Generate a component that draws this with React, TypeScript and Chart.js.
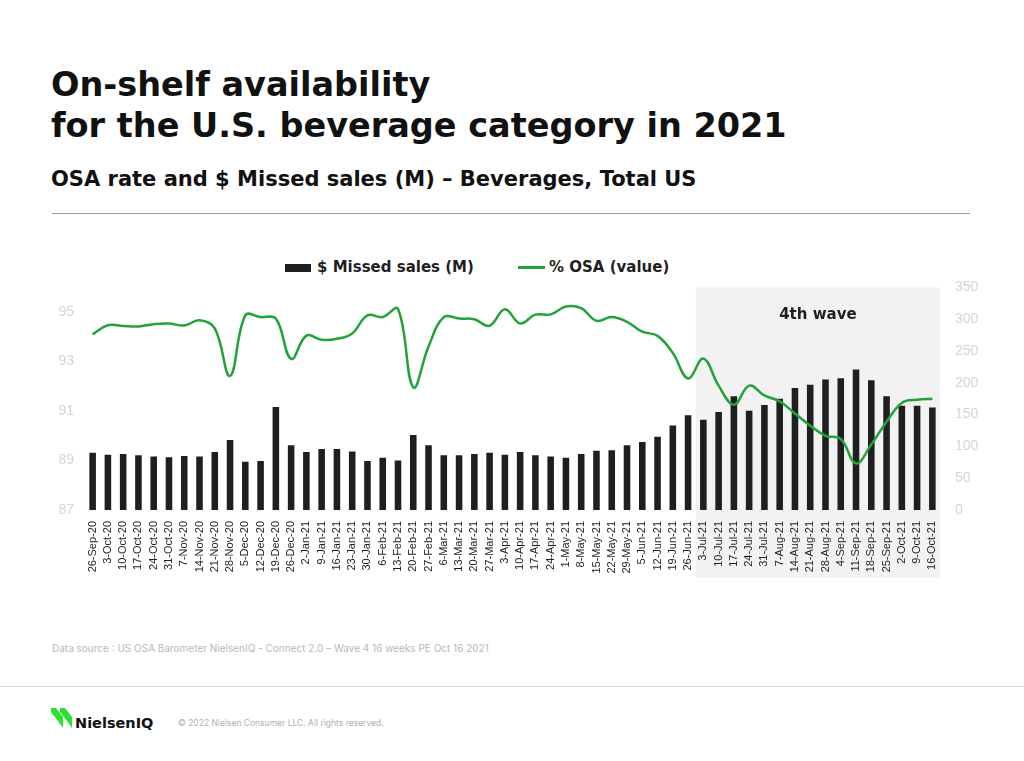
import React, { useEffect, useRef } from 'react';
import { Chart, registerables } from 'chart.js';

Chart.register(...registerables);

const weeks = [
  '26-Sep-20', '3-Oct-20', '10-Oct-20', '17-Oct-20', '24-Oct-20', '31-Oct-20', '7-Nov-20', '14-Nov-20',
  '21-Nov-20', '28-Nov-20', '5-Dec-20', '12-Dec-20', '19-Dec-20', '26-Dec-20', '2-Jan-21', '9-Jan-21',
  '16-Jan-21', '23-Jan-21', '30-Jan-21', '6-Feb-21', '13-Feb-21', '20-Feb-21', '27-Feb-21', '6-Mar-21',
  '13-Mar-21', '20-Mar-21', '27-Mar-21', '3-Apr-21', '10-Apr-21', '17-Apr-21', '24-Apr-21', '1-May-21',
  '8-May-21', '15-May-21', '22-May-21', '29-May-21', '5-Jun-21', '12-Jun-21', '19-Jun-21', '26-Jun-21',
  '3-Jul-21', '10-Jul-21', '17-Jul-21', '24-Jul-21', '31-Jul-21', '7-Aug-21', '14-Aug-21', '21-Aug-21',
  '28-Aug-21', '4-Sep-21', '11-Sep-21', '18-Sep-21', '25-Sep-21', '2-Oct-21', '9-Oct-21', '16-Oct-21',
];

const missedSales = [
  90, 87, 88, 86, 84, 83, 85, 84,
  91, 110, 76, 77, 162, 102, 91, 96,
  96, 92, 77, 82, 78, 118, 102, 86,
  86, 88, 90, 87, 91, 86, 84, 82,
  88, 93, 94, 102, 107, 115, 133, 149,
  142, 154, 179, 156, 165, 175, 192, 197,
  205, 207, 221, 204, 179, 164, 164, 161,
];

const osaValue = [
  94.1, 94.47, 94.44, 94.42, 94.51, 94.54, 94.46, 94.67,
  94.34, 92.42, 94.87, 94.8, 94.74, 93.11, 94.05, 93.88,
  93.92, 94.14, 94.87, 94.8, 95.13, 91.96, 93.61, 94.8,
  94.74, 94.71, 94.45, 95.12, 94.54, 94.9, 94.91, 95.23,
  95.16, 94.65, 94.8, 94.61, 94.21, 94.04, 93.35, 92.32,
  93.12, 92.03, 91.26, 92.03, 91.63, 91.39, 90.9, 90.41,
  90.0, 89.87, 88.88, 89.65, 90.57, 91.33, 91.46, 91.5,
];

const osaTicks = [87, 89, 91, 93, 95];
const salesTicks = [0, 50, 100, 150, 200, 250, 300, 350];
const waveStartIndex = 40;
const waveLabel = '4th wave';

const GREEN = '#22a33a';
const DARK = '#1f1f1f';
const HEAD = '"DejaVu Sans", sans-serif';

const wavePlugin = {
  id: 'waveShade',
  beforeDraw(chart: any) {
    const { ctx, chartArea, scales } = chart;
    const x = scales.x;
    const x0 = (x.getPixelForValue(waveStartIndex - 1) + x.getPixelForValue(waveStartIndex)) / 2;
    const x1 = chartArea.right;
    ctx.save();
    ctx.fillStyle = '#f2f2f2';
    ctx.fillRect(x0, chartArea.top, x1 - x0, chart.height - 12 - chartArea.top);
    ctx.fillStyle = DARK;
    ctx.font = 'bold 15px "DejaVu Sans"';
    ctx.textAlign = 'center';
    ctx.textBaseline = 'middle';
    ctx.fillText(waveLabel, (x0 + x1) / 2, chartArea.top + 28);
    ctx.restore();
  },
};

function ChartBox() {
  const ref = useRef<HTMLCanvasElement>(null);
  useEffect(() => {
    if (!ref.current) return;
    const chart = new Chart(ref.current, {
      type: 'bar',
      data: {
        labels: weeks,
        datasets: [
          {
            type: 'line',
            label: '% OSA (value)',
            data: osaValue,
            yAxisID: 'y',
            borderColor: GREEN,
            backgroundColor: GREEN,
            borderWidth: 2.5,
            pointRadius: 0,
            tension: 0.4,
            order: 0,
          } as any,
          {
            type: 'bar',
            label: '$ Missed sales (M)',
            data: missedSales,
            yAxisID: 'y1',
            backgroundColor: DARK,
            barPercentage: 0.43,
            categoryPercentage: 1,
            order: 1,
          },
        ],
      },
      options: {
        responsive: false,
        animation: false,
        layout: { padding: { top: 10.75, bottom: 0, left: 0, right: 0 } },
        plugins: { legend: { display: false }, tooltip: { enabled: false } },
        scales: {
          x: {
            grid: { display: false },
            border: { display: false },
            ticks: {
              autoSkip: false,
              maxRotation: 90,
              minRotation: 90,
              color: DARK,
              font: { family: 'Liberation Sans', size: 11 },
              padding: 3,
            },
            afterFit: (s: any) => { s.height = 80; },
          },
          y: {
            position: 'left',
            min: 87,
            max: 96,
            grid: { display: false },
            border: { display: false },
            afterBuildTicks: (s: any) => { s.ticks = osaTicks.map((v) => ({ value: v })); },
            ticks: {
              color: '#d4d4d4',
              font: { family: 'Liberation Sans', size: 14 },
              padding: 3,
            },
            afterFit: (s: any) => { s.width = 45; },
          },
          y1: {
            position: 'right',
            min: 0,
            max: 350,
            grid: { display: false },
            border: { display: false },
            afterBuildTicks: (s: any) => { s.ticks = salesTicks.map((v) => ({ value: v })); },
            ticks: {
              color: '#d4d4d4',
              font: { family: 'Liberation Sans', size: 14 },
              padding: 7,
            },
            afterFit: (s: any) => { s.width = 50; },
          },
        },
      },
      plugins: [wavePlugin],
    });
    return () => chart.destroy();
  }, []);
  return <canvas ref={ref} width={950} height={318} style={{ position: 'absolute', left: 40, top: 272, width: 950, height: 318 }} />;
}

export default function App() {
  const font = 'Inter, "Noto Sans", sans-serif';
  return (
    <div style={{ position: 'fixed', left: 0, top: 0, width: 1024, height: 761, background: '#fff', fontFamily: font, overflow: 'hidden' }}>
      <div style={{ position: 'absolute', left: 51, top: 67.5, fontFamily: HEAD, fontSize: 33.5, lineHeight: '33.5px', fontWeight: 700, color: '#111', whiteSpace: 'nowrap' }}>On-shelf availability</div>
      <div style={{ position: 'absolute', left: 51, top: 108.5, fontFamily: HEAD, fontSize: 33.5, lineHeight: '33.5px', fontWeight: 700, color: '#111', whiteSpace: 'nowrap' }}>for the U.S. beverage category in 2021</div>
      <div style={{ position: 'absolute', left: 51, top: 169, fontFamily: HEAD, fontSize: 21, lineHeight: '21px', fontWeight: 700, color: '#111', whiteSpace: 'nowrap' }}>OSA rate and $ Missed sales (M) – Beverages, Total US</div>
      <div style={{ position: 'absolute', left: 52, top: 213, width: 918, height: 1, background: '#9a9a9a' }} />

      <div style={{ position: 'absolute', left: 285, top: 264, width: 26, height: 8, background: DARK }} />
      <div style={{ position: 'absolute', left: 317, top: 259.5, fontFamily: HEAD, fontSize: 15, lineHeight: '15px', fontWeight: 700, color: DARK, whiteSpace: 'nowrap' }}>$ Missed sales (M)</div>
      <div style={{ position: 'absolute', left: 518, top: 266, width: 27, height: 2.5, background: GREEN }} />
      <div style={{ position: 'absolute', left: 549, top: 259.5, fontFamily: HEAD, fontSize: 15, lineHeight: '15px', fontWeight: 700, color: DARK, whiteSpace: 'nowrap' }}>% OSA (value)</div>

      <ChartBox />

      <div style={{ position: 'absolute', left: 52, top: 643, fontSize: 10, lineHeight: '10px', color: '#b8b8b8', whiteSpace: 'nowrap' }}>Data source : US OSA Barometer NielsenIQ - Connect 2.0 – Wave 4 16 weeks PE Oct 16 2021</div>
      <div style={{ position: 'absolute', left: 0, top: 686, width: 1024, height: 1, background: '#dcdcdc' }} />

      <svg style={{ position: 'absolute', left: 51, top: 708 }} width={22} height={20} viewBox="0 0 22 20">
        <polygon points="0,0 5,0 12,9 12,20 7,13 0,4" fill="#2de02d" />
        <polygon points="9,0 14,0 21,9 21,20 16,13 9,4" fill="#2de02d" />
      </svg>
      <div style={{ position: 'absolute', left: 75, top: 716, fontFamily: HEAD, fontSize: 14.5, lineHeight: '14.5px', fontWeight: 700, color: '#111', whiteSpace: 'nowrap' }}>NielsenIQ</div>
      <div style={{ position: 'absolute', left: 178, top: 718, fontSize: 8.5, lineHeight: '10px', color: '#b0b0b0', whiteSpace: 'nowrap' }}>© 2022 Nielsen Consumer LLC. All rights reserved.</div>
    </div>
  );
}
